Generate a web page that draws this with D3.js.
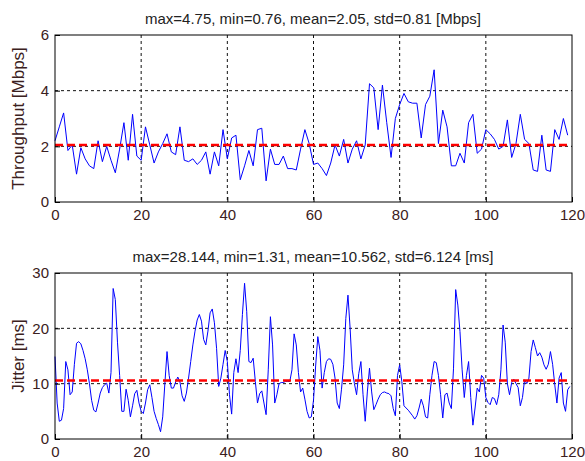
<!DOCTYPE html>
<html>
<head>
<meta charset="utf-8">
<script src="https://cdn.jsdelivr.net/npm/d3@7"></script>
<style>
  body { margin: 0; background: #fff; }
  svg { font-family: "Liberation Sans", Arial, sans-serif; }
</style>
</head>
<body>
<div id="vis"></div>
<script>

/* Data */
/* ---- */

// throughput, one sample per time unit
var throughputStep = 1;
var throughput = [
  2.2, 2.7, 3.2, 1.85, 2.05, 1.0, 1.95, 1.55, 1.3, 1.2,
  2.2, 1.45, 2.0, 1.5, 1.05, 1.9, 2.85, 1.5, 3.15, 1.65,
  1.5, 2.7, 2.05, 1.4, 1.8, 2.1, 2.45, 1.8, 1.7, 2.7,
  1.5, 1.45, 1.55, 1.35, 1.5, 1.8, 1.0, 1.8, 1.3, 2.6,
  1.55, 2.3, 2.4, 0.8, 1.3, 1.85, 1.3, 2.6, 2.65, 0.76,
  1.9, 1.35, 1.35, 1.65, 1.2, 1.2, 1.15, 1.9, 2.6, 2.1,
  1.35, 1.4, 1.2, 0.95, 1.4, 2.05, 1.65, 2.25, 1.4, 1.9,
  2.2, 1.55, 2.05, 4.25, 4.1, 2.6, 4.2, 2.85, 1.6, 3.0,
  3.5, 3.9, 3.6, 3.55, 3.55, 2.3, 3.5, 3.8, 4.75, 2.1,
  3.3, 2.7, 1.3, 1.3, 1.75, 1.4, 2.85, 3.15, 1.75, 1.9,
  2.6, 2.45, 2.25, 1.9, 2.0, 2.95, 1.6, 2.1, 3.15, 2.25,
  2.1, 1.15, 1.1, 2.4, 1.15, 1.1, 2.6, 2.25, 3.0, 2.4
];

// jitter, two samples per time unit
var jitterStep = 0.5;
var jitter = [
  14.9, 6.5, 3.2, 3.4, 5.5, 14.0, 12.5, 8.0, 8.5, 13.5,
  17.3, 17.6, 17.2, 16.0, 14.5, 12.5, 10.0, 7.0, 5.2, 4.9,
  6.5, 8.3, 9.3, 9.8, 10.1, 8.3, 12.0, 27.2, 25.2, 17.5,
  11.5, 5.0, 5.0, 9.0, 7.0, 4.0, 6.0, 8.2, 8.8, 6.5,
  5.0, 4.6, 6.5, 8.9, 9.8, 7.5, 5.0, 3.7, 2.6, 1.31,
  4.0, 10.0, 15.8, 11.5, 9.2, 9.2, 10.3, 11.2, 10.3, 7.8,
  6.8, 8.3, 11.0, 14.0, 17.0, 19.5, 21.5, 22.5, 21.3, 18.0,
  17.0, 19.5, 22.8, 23.5, 21.0, 16.4, 9.5, 11.0, 13.5, 16.0,
  14.0, 8.0, 4.5, 12.0, 14.5, 12.0, 16.0, 22.5, 28.144, 23.0,
  14.0, 13.8, 14.6, 10.4, 6.5, 8.2, 8.7, 6.5, 4.4, 12.5,
  22.1, 17.0, 6.5, 8.0, 10.0, 10.2, 10.2, 10.4, 10.4, 10.4,
  12.5, 19.0, 17.0, 12.0, 8.5, 9.2, 7.2, 5.0, 3.8, 4.0,
  7.0, 13.2, 18.5, 16.0, 9.2, 12.0, 14.0, 14.5, 14.4, 13.5,
  11.0, 6.5, 5.5, 9.0, 13.4, 21.8, 26.0, 20.0, 12.5, 10.0,
  8.0, 11.8, 14.0, 8.0, 3.2, 8.5, 12.8, 8.5, 5.3, 6.2,
  7.2, 8.0, 8.4, 8.5, 8.3, 8.2, 7.8, 5.5, 4.2, 11.5,
  13.4, 10.4, 6.0, 5.6, 5.2, 4.7, 4.2, 3.6, 4.2, 5.6,
  7.2, 6.0, 4.0, 3.8, 8.0, 11.5, 14.0, 13.8, 11.5, 8.0,
  3.8, 8.0, 8.3, 6.5, 5.5, 12.8, 27.0, 24.2, 19.4, 12.5,
  7.5, 11.5, 14.0, 7.5, 2.5, 5.6, 9.2, 8.5, 11.5, 11.0,
  7.5, 6.6, 6.2, 7.5, 7.3, 6.2, 8.0, 12.5, 20.6, 17.5,
  10.0, 8.0, 10.2, 10.8, 10.0, 9.3, 6.0, 7.5, 10.7, 10.0,
  11.0, 15.8, 17.9, 16.5, 15.0, 15.6, 14.8, 13.4, 12.6, 13.5,
  15.8, 13.5, 9.8, 6.5, 11.0, 12.0, 6.5, 5.0, 8.9, 9.5
];

var xTicks = [0, 20, 40, 60, 80, 100, 120];
var throughputTicks = [0, 2, 4, 6];
var jitterTicks = [0, 10, 20, 30];

var throughputStats = { max: '4.75', min: '0.76', mean: 2.05, std: '0.81', unit: 'Mbps' };
var jitterStats = { max: '28.144', min: '1.31', mean: 10.562, std: '6.124', unit: 'ms' };


/* Setup */
/* ----- */

var width = 585, height = 461;

var svg = d3.select('#vis').append('svg')
    .attr('width', width)
    .attr('height', height);

function drawPanel(cfg) {

  var x = d3.scaleLinear().domain([0, 120]).range([55, 572]);
  var y = d3.scaleLinear().domain(cfg.domain).range([cfg.bottom, cfg.top]);

  var g = svg.append('g');

  // grid
  g.selectAll('.vgrid').data(xTicks.slice(1, -1)).enter().append('line')
      .attr('x1', function(d) { return x(d); }).attr('x2', function(d) { return x(d); })
      .attr('y1', cfg.top).attr('y2', cfg.bottom)
      .attr('stroke', '#111').attr('stroke-width', 1).attr('stroke-dasharray', '3,3');

  g.selectAll('.hgrid').data(cfg.ticks.slice(1, -1)).enter().append('line')
      .attr('x1', 55).attr('x2', 572)
      .attr('y1', function(d) { return y(d); }).attr('y2', function(d) { return y(d); })
      .attr('stroke', '#111').attr('stroke-width', 1).attr('stroke-dasharray', '3,3');

  // series
  var line = d3.line()
      .x(function(d, i) { return x(i * cfg.step); })
      .y(function(d) { return y(d); });

  g.append('path')
      .datum(cfg.values)
      .attr('d', line)
      .attr('fill', 'none')
      .attr('stroke', '#0000ff')
      .attr('stroke-width', 1);

  // mean line
  var last = (cfg.values.length - 1) * cfg.step;
  g.append('line')
      .attr('x1', x(0)).attr('x2', x(last))
      .attr('y1', y(cfg.stats.mean)).attr('y2', y(cfg.stats.mean))
      .attr('stroke', '#ff0000').attr('stroke-width', 2.5)
      .attr('stroke-dasharray', '8,4');

  // axes
  var xAxis = d3.axisBottom(x).tickValues(xTicks).tickFormat(d3.format('d')).tickSize(-5).tickPadding(7);
  var yAxis = d3.axisLeft(y).tickValues(cfg.ticks).tickFormat(d3.format('d')).tickSize(-5).tickPadding(6);

  var gx = g.append('g').attr('transform', 'translate(0,' + cfg.bottom + ')').call(xAxis);
  var gy = g.append('g').attr('transform', 'translate(55,0)').call(yAxis);

  [gx, gy].forEach(function(a) {
    a.select('.domain').remove();
    a.selectAll('line').attr('stroke', '#000');
    a.selectAll('text').attr('fill', '#3b2020').style('font-size', '15px');
  });

  // frame
  g.append('rect')
      .attr('x', 55).attr('y', cfg.top)
      .attr('width', 517).attr('height', cfg.bottom - cfg.top)
      .attr('fill', 'none').attr('stroke', '#000').attr('stroke-width', 1);

  // title
  var s = cfg.stats;
  g.append('text')
      .attr('x', 313).attr('y', cfg.top - 11)
      .attr('text-anchor', 'middle')
      .attr('fill', '#222')
      .style('font-size', '15px')
      .text('max=' + s.max + ', min=' + s.min + ', mean=' + s.mean + ', std=' + s.std + ' [' + s.unit + ']');

  // y label
  g.append('text')
      .attr('transform', 'translate(24,' + ((cfg.top + cfg.bottom) / 2) + ') rotate(-90)')
      .attr('text-anchor', 'middle')
      .attr('fill', '#3b2020')
      .style('font-size', '17px')
      .text(cfg.label);

} // drawPanel()

drawPanel({ values: throughput, step: throughputStep, domain: [0, 6], ticks: throughputTicks, top: 35, bottom: 202,
            stats: throughputStats, label: 'Throughput [Mbps]' });

drawPanel({ values: jitter, step: jitterStep, domain: [0, 30], ticks: jitterTicks, top: 273, bottom: 439,
            stats: jitterStats, label: 'Jitter [ms]' });

</script>
</body>
</html>
